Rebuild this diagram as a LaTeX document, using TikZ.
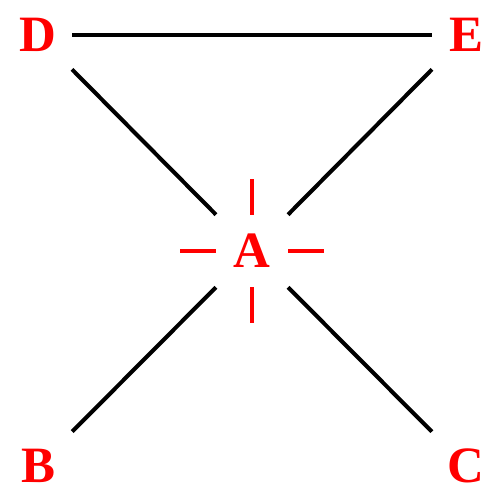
\documentclass[tikz,border=0pt]{standalone}
\usepackage{fontspec}
\setmainfont{Liberation Serif}
\begin{document}
\begin{tikzpicture}[
    x=0.02cm, y=-0.02cm,
    vertex/.style={rectangle, minimum size=1.36cm, inner sep=0pt, text=red, font=\fontsize{29}{29}\selectfont\bfseries},
    hub/.style={vertex, minimum size=1.44cm},
    edge/.style={line width=2.3pt, black},
    tick/.style={line width=2.3pt, red}
]
\useasboundingbox (0,0) rectangle (500,500);

% Outer labels
\node[vertex] (d) at (38,35) {D};
\node[vertex] (e) at (466,35) {E};
\node[vertex] (b) at (38,466) {B};
\node[vertex] (c) at (466,466) {C};

% Centre label
\node[hub] (a) at (252,251) {A};

% Edges
\draw[edge] (d) -- (e);
\draw[edge] (d) -- (a);
\draw[edge] (e) -- (a);
\draw[edge] (b) -- (a);
\draw[edge] (c) -- (a);

% Red ticks round A
\draw[tick] (a.north) -- ++(0,-36);
\draw[tick] (a.south) -- ++(0,36);
\draw[tick] (a.west) -- ++(-36,0);
\draw[tick] (a.east) -- ++(36,0);

\end{tikzpicture}
\end{document}
